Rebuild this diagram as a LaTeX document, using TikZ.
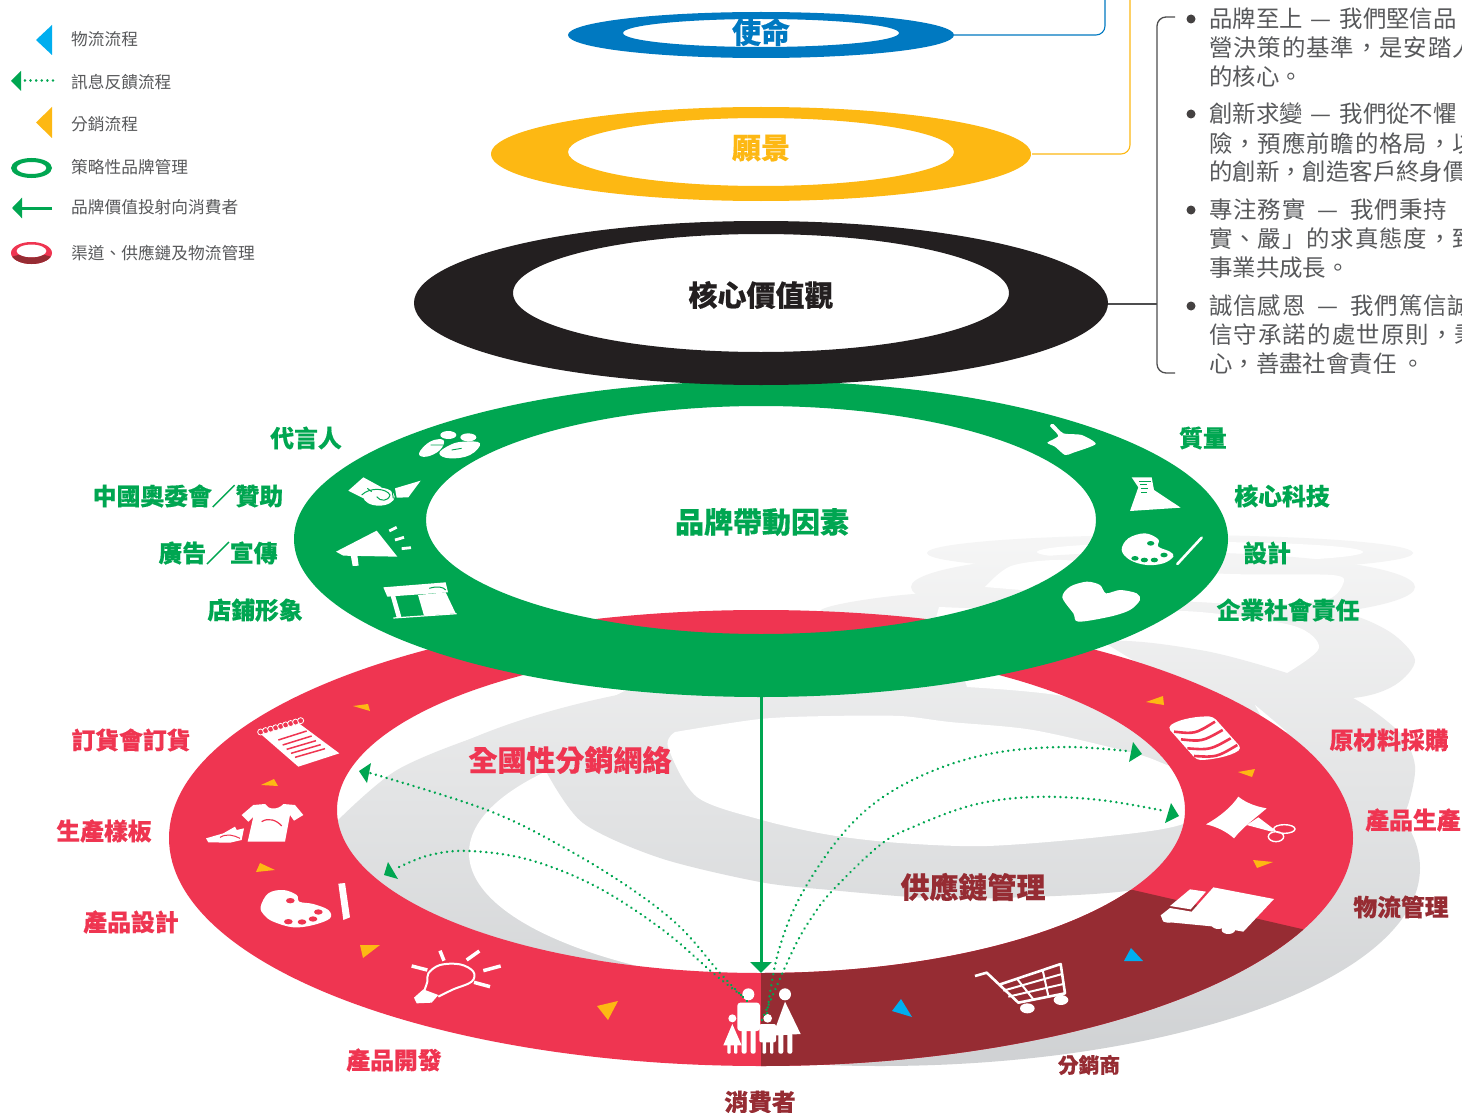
\documentclass[tikz,border=0pt]{standalone}
\usepackage{fontspec}
\setmainfont[BoldFeatures={FakeBold=0.35}]{Noto Sans CJK TC}
\usetikzlibrary{arrows.meta,calc}
\definecolor{cRed}{HTML}{EF3551}
\definecolor{cDark}{HTML}{962C33}
\definecolor{cGreen}{HTML}{00A651}
\definecolor{cYellow}{HTML}{FDB813}
\definecolor{cBlue}{HTML}{0079C1}
\definecolor{cCyan}{HTML}{00AEEF}
\definecolor{cBlack}{HTML}{231F20}
\definecolor{cText}{HTML}{58595B}
\definecolor{cLine}{HTML}{4D4D4F}
\definecolor{sTop}{HTML}{F6F6F6}
\definecolor{sBot}{HTML}{CFD1D3}
\newcommand\sz[1]{\fontsize{#1}{#1}\selectfont}
\newcommand\shapeGray[1]{\begin{scope}\clip #1;\shade[top color=sTop,bottom color=sBot] (0,530) rectangle (1462,1070);\end{scope}}
\newcommand\ringred{(761,838) ellipse [x radius=592,y radius=228] (761,810) ellipse [x radius=424,y radius=163]}
\newcommand\dashgap[1]{\hspace{#1pt}—\hspace{#1pt}}
\tikzset{
 x=1pt,y=-1pt,
 zA/.style={shift={(280,400)},x=.33333pt,y=-.33333pt},
 zB/.style={shift={(1030,400)},x=.33333pt,y=-.33333pt},
 zC/.style={shift={(190,700)},x=.33333pt,y=-.33333pt},
 zD/.style={shift={(1100,680)},x=.33333pt,y=-.33333pt},
 zE/.style={shift={(690,950)},x=.33333pt,y=-.33333pt},
 lg/.style={font=\sz{16.7},text=cText,anchor=west,inner sep=0pt},
 bodyline/.style={font=\sz{23.4},text=cText,anchor=west,inner sep=0pt},
 bul/.style={circle,fill=cBlack!85,inner sep=0pt,minimum size=9pt},
 gl/.style={font=\sz{23.8}\bfseries,text=cGreen,inner sep=0pt},
 rl/.style={font=\sz{23.8}\bfseries,text=cRed,inner sep=0pt},
 dl/.style={font=\sz{23.8}\bfseries,text=cDark,inner sep=0pt},
 big/.style={font=\sz{29}\bfseries,inner sep=0pt},
 conn/.style={line width=1.1pt,rounded corners=9pt},
 dotc/.style={cGreen,line width=2.7pt,line cap=round,dash pattern=on 0.01pt off 5.6pt},
 hd/.style={fill=cGreen},
 yt/.style={fill=cYellow},
 bt/.style={fill=cCyan},
}
\begin{document}
\begin{tikzpicture}
\useasboundingbox (0,0) rectangle (1462,1113);
\fill[white] (0,0) rectangle (1462,1113);

% ---------- shadows
\shapeGray{(1170,553) ellipse [x radius=243,y radius=18]}
\fill[white] (1200,552) ellipse [x radius=163,y radius=10];
\shapeGray{(1163,587) ellipse [x radius=252,y radius=35]}
\fill[white] plot[smooth,tension=.5] coordinates {(985,587) (1011,566) (1062,560) (1130,568) (1230,574) (1332,575) (1343,584) (1323,601) (1243,604) (1100,596) (985,587)} -- cycle;
\shapeGray{plot[smooth cycle,tension=.5] coordinates {(821,610) (914,594) (1000,598) (1100,600) (1250,606) (1340,612) (1390,632) (1415,660) (1395,685) (1353,698) (1250,700) (1000,650) (850,640)}}
\fill[white] plot[smooth,tension=.5] coordinates {(939,607) (1000,609) (1100,610) (1200,612) (1294,626) (1319,648) (1287,673)} -- (1200,690) -- (1000,680) -- (930,640) -- cycle;
\shapeGray{plot[smooth,tension=.5] coordinates {(1000,680) (1100,642) (1200,650) (1287,673) (1353,698) (1400,733) (1415,766) (1408,805) (1395,830)} -- (1300,900) -- (1000,800) -- cycle}
\shapeGray{(880,868) ellipse [x radius=540,y radius=198]}
\shapeGray{plot[smooth,tension=.5] coordinates {(330,828) (397,770) (497,730) (585,711)} -- (627,690) -- (800,690) -- (800,1000) -- (420,960) -- (320,860) -- cycle}
\fill[white] (880,853) ellipse [x radius=411,y radius=140];
\shapeGray{plot[smooth,tension=.5] coordinates {(547,773) (583,823) (660,858) (760,882) (830,890) (927,898) (1000,898) (1133,890) (1230,860)} -- (1300,800) -- (1250,720) -- (1100,670) -- (800,660) -- (627,690) -- (585,711) -- (540,745) -- cycle}
\fill[white] plot[smooth,tension=.5] coordinates {(675,732) (668,747) (697,797) (762,820) (830,835) (900,843) (987,846) (1100,837) (1183,824) (1230,790) (1167,765) (1133,753) (1033,730) (950,722) (900,716) (830,716) (760,719) (675,732)} -- cycle;
\fill[white] plot[smooth,tension=.5] coordinates {(967,687) (1067,697) (1133,728) (1170,762)} -- (1230,720) -- (1100,640) -- (960,665) -- cycle;
\fill[white] (1255,705) -- (1267,715) -- (1287,732) -- (1270,733) -- cycle;

% ---------- red ring
\fill[cRed,even odd rule] \ringred;
\begin{scope}
\clip (761,900) -- (761,1100) -- (1462,1100) -- (1462,966) -- (1133,890) -- cycle;
\fill[cDark,even odd rule] \ringred;
\end{scope}

% triangles on red ring
\fill[yt] (353,706) -- (368,704) -- (370,711) -- cycle;
\fill[yt] (261,785) -- (274,779) -- (278,786) -- cycle;
\fill[yt] (256,872) -- (260,863) -- (275,870) -- cycle;
\fill[yt] (360,945) -- (380,945) -- (363,958) -- cycle;
\fill[yt] (597,1006) -- (618,1001) -- (608,1020) -- cycle;
\fill[yt] (1146,702) -- (1163,696) -- (1164,705) -- cycle;
\fill[yt] (1238,772) -- (1255,769) -- (1252,777) -- cycle;
\fill[yt] (1253,860) -- (1273,862) -- (1257,868) -- cycle;
\fill[bt] (901,999) -- (912,1017) -- (892,1011) -- cycle;
\fill[bt] (1131,948) -- (1143,961) -- (1124,961) -- cycle;

% icons on red ring, left
\begin{scope}[zC]
 % notepad
 \fill[white] (210,100) -- (320,65) -- (448,160) -- (325,200) -- cycle;
 \foreach \q in {0,.125,...,1}
   \draw[white,fill=cRed,line width=.8pt] ($(212,96)+\q*(120,-34)$) circle [radius=9];
 \foreach \a/\b/\c/\d in {265/120/350/93,278/135/365/108,290/148/378/122,303/160/392/134,315/172/405/146}
   \draw[cRed,line width=1.5pt] (\a,\b) -- (\c,\d);
 % shirt
 \fill[white] (155,345) -- (190,315) -- (225,312) .. controls (235,330) and (265,330) .. (280,312) -- (315,315) -- (340,345) -- (312,362) -- (300,345) -- (285,425) -- (173,425) -- (190,350) -- (175,365) -- cycle;
 \draw[cRed,line width=1.2pt] (215,365) .. controls (235,352) and (260,360) .. (275,378);
 % shoe
 \fill[white] (48,415) -- (100,400) -- (135,380) -- (140,390) -- (162,385) -- (155,420) -- (120,428) -- (55,427) -- cycle;
 \draw[cRed,line width=1pt] (90,412) .. controls (110,400) and (130,405) .. (150,415);
 % palette
 \fill[white] plot[smooth cycle,tension=.6] coordinates {(212,620) (235,580) (280,570) (320,585) (328,605) (370,612) (415,630) (420,655) (370,675) (310,682) (250,665) (222,645)};
 \foreach \a/\b in {301/602,385/636,369/657,336/666,295/665}
   \fill[cRed] (\a,\b) ellipse [x radius=13,y radius=8];
 \fill[white] (445,551) -- (465,549) -- (480,652) -- (460,660) -- cycle;
 % bulb
 \draw[white,line width=2pt,line join=round] plot[smooth,tension=.6] coordinates {(700,880) (712,845) (715,820) (750,795) (810,793) (850,815) (845,845) (790,868) (745,890)};
 \fill[white] (672,893) -- (700,868) -- (745,885) -- (725,908) -- (680,910) -- cycle;
 \draw[white,line width=3.5pt] (750,752) -- (762,782) (868,753) -- (830,780) (932,798) -- (880,812) (900,860) -- (852,847) (665,798) -- (712,810);
\end{scope}

% icons on red ring, right
\begin{scope}[zD]
 \fill[white,rounded corners=4pt] (203,142) .. controls (240,115) and (300,108) .. (340,110) -- (425,205) .. controls (390,230) and (330,240) .. (290,240) -- cycle;
 \foreach \a/\b/\c/\d/\e/\f in {222/155/285/162/345/125,243/178/306/185/368/150,262/205/330/210/392/175,282/228/350/232/412/195}
   \draw[cRed,line width=2.6pt] (\a,\b) .. controls (\c,\d) .. (\e,\f);
 \fill[white] (318,433) .. controls (360,410) and (395,380) .. (415,350) .. controls (440,370) and (470,380) .. (500,385) .. controls (465,415) and (430,440) .. (402,475) .. controls (380,455) and (350,440) .. (318,433) -- cycle;
 \fill[white] (440,435) -- (475,412) -- (525,450) -- (515,455) -- cycle;
 \draw[white,line width=1.4pt] (553,447) ellipse [x radius=32,y radius=13] (528,470) ellipse [x radius=23,y radius=15];
 % truck
 \fill[white] (340,622) -- (522,657) -- (430,755) -- (345,740) -- (190,725) -- (182,706) -- (210,684) -- (275,695) -- cycle;
 \fill[white] (270,628) -- (318,635) -- (272,688) -- (210,678) -- cycle;
 \fill[white] (205,718) ellipse [x radius=18,y radius=10] (355,735) ellipse [x radius=20,y radius=12] (385,750) ellipse [x radius=20,y radius=12];
\end{scope}

\begin{scope}[zE]
 % cart
 \draw[white,line width=2.6pt,line join=round] (855,78) -- (890,68) -- (985,158) -- (1125,130) -- (1112,42) -- (925,105);
 \draw[white,line width=2pt] (940,122) -- (1116,72) (955,140) -- (1120,102) (980,85) -- (1030,148) (1058,60) -- (1075,138);
 \fill[white] (1012,175) ellipse [x radius=22,y radius=15] (1113,150) ellipse [x radius=22,y radius=15];
 % family
 \fill[white] (175,133) circle [radius=18];
 \fill[white,rounded corners=3pt] (142,158) rectangle (210,243);
 \fill[white,rounded corners=2pt] (155,230) rectangle (170,311) (182,230) rectangle (197,311);
 \fill[white] (285,133) circle [radius=18];
 \fill[white] (285,155) -- (332,252) -- (248,257) -- cycle;
 \fill[white,rounded corners=2pt] (265,250) rectangle (280,311) (292,250) rectangle (307,311);
 \fill[white] (127,205) circle [radius=12];
 \fill[white] (127,222) -- (155,286) -- (100,286) -- cycle;
 \fill[white,rounded corners=1pt] (112,280) rectangle (122,311) (132,280) rectangle (142,311);
 \fill[white] (233,205) circle [radius=13];
 \fill[white,rounded corners=2pt] (208,222) rectangle (258,277);
 \fill[white,rounded corners=1pt] (218,270) rectangle (228,311) (240,270) rectangle (250,311);
\end{scope}

% ---------- green ring
\fill[cGreen,even odd rule] (761,539) ellipse [x radius=467,y radius=158] (761,520) ellipse [x radius=335,y radius=114];

\begin{scope}[zA]
 % two people
 \fill[white] (505,105) ellipse [x radius=24,y radius=12] (565,112) ellipse [x radius=24,y radius=12];
 \fill[white] plot[smooth cycle,tension=.7] coordinates {(417,160) (450,125) (490,120) (480,150) (440,170)};
 \fill[white] plot[smooth cycle,tension=.7] coordinates {(478,160) (510,135) (550,125) (600,130) (570,165) (510,175)};
 \draw[cGreen,line width=.9pt] (452,135) -- (490,135) (515,150) -- (545,145);
 % handshake
 \fill[white] (205,272) -- (250,232) -- (305,262) -- (255,297) -- cycle;
 \fill[white] (345,265) -- (422,242) -- (385,292) -- (350,293) -- cycle;
 \fill[white] (297,290) ellipse [x radius=47,y radius=27];
 \draw[cGreen,line width=1pt] (245,285) .. controls (270,260) and (320,265) .. (330,285) .. controls (325,305) and (300,305) .. (290,290) (335,265) -- (340,295) (262,265) -- (275,275);
 % megaphone
 \fill[white] (168,455) -- (290,392) -- (352,470) -- (190,467) -- cycle;
 \fill[white] (212,465) -- (232,465) -- (236,497) -- (218,498) -- cycle;
 \draw[white,line width=2.8pt] (328,393) -- (350,382) (345,420) -- (372,412) (365,446) -- (393,443);
 % store
 \fill[white] (310,562) -- (497,547) -- (504,577) -- (322,590) -- cycle;
 \fill[white] (332,588) -- (346,588) -- (364,650) -- (350,652) -- cycle;
 \fill[white] (414,585) -- (497,577) -- (527,640) -- (432,647) -- cycle;
 \draw[white,line width=1.2pt] (340,654) -- (530,641);
 \draw[cGreen,line width=1pt] (448,565) .. controls (470,558) and (490,560) .. (497,570);
\end{scope}

\begin{scope}[zB]
 \fill[white] plot[smooth cycle,tension=.4] coordinates {(60,78) (70,72) (100,100) (155,105) (197,132) (130,158) (105,165) (75,140) (52,128) (85,108)};
 \fill[white] (305,232) -- (365,232) -- (372,270) -- (452,323) -- (300,333) -- (325,262) -- cycle;
 \draw[cGreen,line width=1pt] (328,243) -- (362,243) (330,253) -- (350,253) (332,265) -- (355,265) (334,278) -- (350,278);
 \fill[white] plot[smooth cycle,tension=.6] coordinates {(275,450) (295,415) (345,400) (385,418) (385,440) (420,455) (430,470) (400,490) (350,495) (300,480)};
 \foreach \a/\b in {362/430,315/475,343/480,373/480,402/465}
   \fill[cGreen] (\a,\b) ellipse [x radius=11,y radius=7];
 \draw[white,line width=2.6pt,line cap=round] (442,492) -- (515,413);
 \fill[white] plot[smooth cycle,tension=.5] coordinates {(97,592) (120,560) (170,545) (210,555) (228,580) (270,570) (320,580) (330,600) (300,630) (240,650) (145,665) (130,640)};
\end{scope}

% ---------- upper rings
\fill[cBlack,even odd rule] (761,303) ellipse [x radius=347,y radius=82] (761,293) ellipse [x radius=248,y radius=59];
\fill[cYellow,even odd rule] (761,154) ellipse [x radius=270,y radius=47] (761,152) ellipse [x radius=193,y radius=34];
\fill[cBlue,even odd rule] (761,35) ellipse [x radius=193,y radius=23] (761,33) ellipse [x radius=138,y radius=14];

% connectors
\coordinate (missionEnd) at (954,35);
\coordinate (missionUp) at (1105,-5);
\coordinate (visionEnd) at (1032,154);
\coordinate (visionUp) at (1130,-5);
\coordinate (coreEnd) at (1108,304);
\coordinate (brTop) at (1175,17);
\coordinate (brBot) at (1175,373);
\coordinate (brMid) at (1157,304);
\draw[conn,cBlue] (missionEnd) -| (missionUp);
\draw[conn,cYellow] (visionEnd) -| (visionUp);
\draw[conn,cLine] (coreEnd) -- (brMid);
\draw[conn,cLine,line width=1.3pt] (brTop) -- (1157,17) -- (1157,373) -- (brBot);

% ring labels
\node[big,text=cBlue] (tMission) at (761,32) {使命};
\node[big,text=cYellow] (tVision) at (761,148) {願景};
\node[big,text=cBlack] (tCore) at (761,295) {核心價值觀};
\node[big,text=cGreen] (tBrand) at (762,522) {品牌帶動因素};
\node[big,text=cRed] (tNet) at (570,760) {全國性分銷網絡};
\node[big,text=cDark] (tChain) at (973,887) {供應鏈管理};

% side labels
\node[gl] (g1) at (306,438) {代言人};
\node[gl] (g2) at (188,496) {中國奧委會／贊助};
\node[gl] (g3) at (218,553) {廣告／宣傳};
\node[gl] (g4) at (255,610) {店鋪形象};
\node[gl] (g5) at (1203,438) {質量};
\node[gl] (g6) at (1282,496) {核心科技};
\node[gl] (g7) at (1267,553) {設計};
\node[gl] (g8) at (1288,610) {企業社會責任};
\node[rl] (r1) at (131,740) {訂貨會訂貨};
\node[rl] (r2) at (104,831) {生產樣板};
\node[rl] (r3) at (131,922) {產品設計};
\node[rl] (r4) at (394,1060) {產品開發};
\node[rl] (r5) at (1389,740) {原材料採購};
\node[rl] (r6) at (1413,820) {產品生產};
\node[dl] (d1) at (1401,907) {物流管理};
\node[dl,font=\sz{20.7}\bfseries] (d2) at (1089,1065) {分銷商};
\node[dl] (d3) at (760,1102) {消費者};

% brand arrow and dotted connectors
\coordinate (ringBottom) at (761,697);
\coordinate (consumerTop) at (761,973);
\draw[cGreen,line width=3pt,-{Triangle[length=11pt,width=21pt]}] (ringBottom) -- (consumerTop);
\coordinate (fA) at (747,1001);
\coordinate (fB) at (741,995);
\coordinate (fC) at (767,1013);
\coordinate (fD) at (762,1020);
\coordinate (eA) at (370,773);
\coordinate (eB) at (397,868);
\coordinate (eC) at (1127,751);
\coordinate (eD) at (1165,811);
\draw[dotc] plot[smooth,tension=.6] coordinates {(fA) (720,973) (680,927) (630,888) (563,847) (487,810) (eA)};
\draw[dotc] plot[smooth,tension=.6] coordinates {(fB) (713,973) (663,930) (597,887) (530,860) (470,851) (430,855) (eB)};
\draw[dotc] plot[smooth,tension=.6] coordinates {(fC) (778,953) (800,897) (840,837) (883,797) (940,768) (1000,752) (1067,747) (eC)};
\draw[dotc] plot[smooth,tension=.6] coordinates {(fD) (793,950) (812,917) (833,890) (880,845) (913,827) (973,805) (1033,797) (1100,800) (eD)};
\fill[hd] (371,763) -- (359,771) -- (367,783) -- cycle;
\fill[hd] (388,862) -- (384,875) -- (398,879) -- cycle;
\fill[hd] (1133,742) -- (1142,754) -- (1129,762) -- cycle;
\fill[hd] (1171,803) -- (1179,816) -- (1165,823) -- cycle;

% ---------- legend
\fill[bt] (52,25) -- (36,40) -- (52,55) -- cycle;
\node[lg] (l1) at (71,39) {物流流程};
\coordinate (ld1) at (53,80.5);
\coordinate (ld2) at (21,80.5);
\draw[dotc] (ld1) -- (ld2);
\fill[hd] (21,71) -- (11,81) -- (21,91) -- cycle;
\node[lg] (l2) at (71,82) {訊息反饋流程};
\fill[yt] (52,107) -- (36,122.5) -- (52,138) -- cycle;
\node[lg] (l3) at (71,124) {分銷流程};
\fill[cGreen,even odd rule] (31.5,168) ellipse [x radius=20.5,y radius=10] (31.5,168) ellipse [x radius=15,y radius=6];
\node[lg] (l4) at (71,167) {策略性品牌管理};
\coordinate (la1) at (52,208);
\coordinate (la2) at (12,208);
\draw[cGreen,line width=3pt,-{Triangle[length=10pt,width=20pt]}] (la1) -- (la2);
\node[lg] (l5) at (71,207) {品牌價值投射向消費者};
\fill[cRed,even odd rule] (31.5,253) ellipse [x radius=20.5,y radius=11] (31.5,251) ellipse [x radius=15,y radius=6.5];
\begin{scope}
\clip (11,257) -- (18,255) -- (45,255) -- (52,257) -- (52,266) -- (11,266) -- cycle;
\fill[cDark,even odd rule] (31.5,253) ellipse [x radius=20.5,y radius=11] (31.5,251) ellipse [x radius=15,y radius=6.5];
\end{scope}
\node[lg] (l6) at (71,253) {渠道、供應鏈及物流管理};

% ---------- right-hand text
\node[bul] (b1) at (1191,19) {};
\node[bul] (b2) at (1191,114) {};
\node[bul] (b3) at (1191,210) {};
\node[bul] (b4) at (1191,306) {};
\node[bodyline] (a1) at (1209,19) {品牌至上\dashgap{8}我們堅信品};
\node[bodyline] (a2) at (1209,48) {\addfontfeature{LetterSpace=4}營決策的基準，是安踏人};
\node[bodyline] (a3) at (1209,77) {的核心。};
\node[bodyline] (c1) at (1209,114) {創新求變\dashgap{8}我們從不懼};
\node[bodyline] (c2) at (1209,143) {\addfontfeature{LetterSpace=4}險，預應前瞻的格局，以};
\node[bodyline] (c3) at (1209,172) {的創新，創造客戶終身價};
\node[bodyline] (e1) at (1209,210) {\addfontfeature{LetterSpace=4}專注務實\dashgap{12}我們秉持};
\node[bodyline] (e2) at (1209,239) {\addfontfeature{LetterSpace=4}實、嚴」的求真態度，致};
\node[bodyline] (e3) at (1209,268) {事業共成長。};
\node[bodyline] (h1) at (1209,306) {\addfontfeature{LetterSpace=4}誠信感恩\dashgap{12}我們篤信誠};
\node[bodyline] (h2) at (1209,335) {\addfontfeature{LetterSpace=5}信守承諾的處世原則，秉};
\node[bodyline] (h3) at (1209,364) {心，善盡社會責任 。};
\end{tikzpicture}
\end{document}
